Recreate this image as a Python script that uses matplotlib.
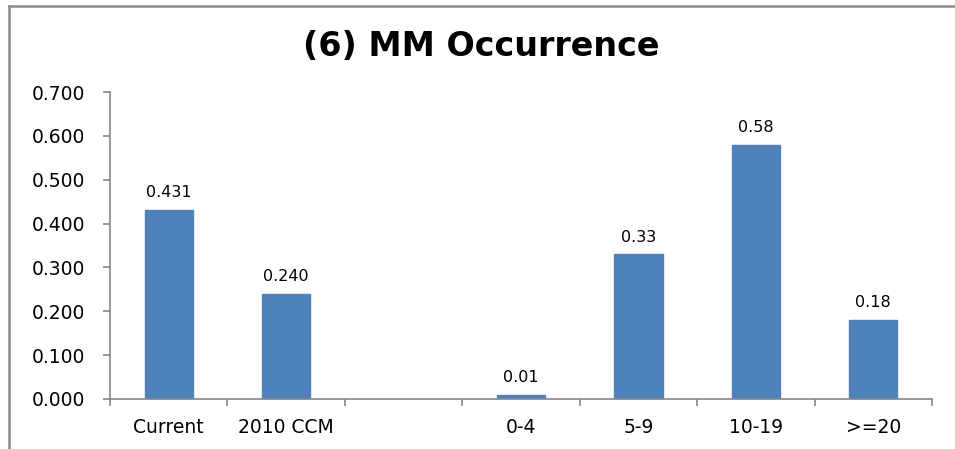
import numpy as np
import matplotlib.pyplot as plt
from matplotlib.lines import Line2D

plt.rcParams['font.family'] = ['DejaVu Sans']

categories = ['Current', '2010 CCM', '', '0-4', '5-9', '10-19', '>=20']
values = [0.431, 0.240, None, 0.01, 0.33, 0.58, 0.18]
value_labels = ['0.431', '0.240', '', '0.01', '0.33', '0.58', '0.18']

W, H = 955, 449
fig = plt.figure(figsize=(W / 100, H / 100), dpi=100)
ax = fig.add_axes([110 / W, 1 - 399 / H, (932 - 110) / W, (399 - 92) / H])

x = np.arange(len(categories))
heights = [v if v is not None else 0 for v in values]
bars = ax.bar(x, heights, width=0.41, color='#4F81BD', edgecolor='#4F81BD', zorder=2)
for i, b in enumerate(bars):
    if values[i] is None:
        b.set_visible(False)
        continue
    ax.annotate(value_labels[i], (b.get_x() + b.get_width() / 2, values[i]),
                xytext=(0, 7), textcoords='offset points', ha='center', va='bottom',
                fontsize=11.5)

ax.set_xlim(-0.5, len(categories) - 0.5)
ax.set_ylim(0, 0.7)
ax.set_yticks(np.arange(0, 0.71, 0.1))
ax.set_yticklabels([f'{t:.3f}' for t in np.arange(0, 0.71, 0.1)], fontsize=13.5)

# category labels in the middle, tick marks on the boundaries
ax.set_xticks(x)
ax.set_xticklabels(categories, fontsize=13.5)
ax.tick_params(axis='x', which='major', length=0, pad=14)
ax.set_xticks(np.arange(-0.5, len(categories)), minor=True)
ax.tick_params(axis='x', which='minor', length=5, color='#868686', width=1.2)
ax.tick_params(axis='y', length=5, color='#868686', width=1.2, pad=13)

for s in ['top', 'right']:
    ax.spines[s].set_visible(False)
for s in ['left', 'bottom']:
    ax.spines[s].set_color('#868686')
    ax.spines[s].set_linewidth(1.2)

fig.text(481 / W, 1 - 46 / H, '(6) MM Occurrence', ha='center', va='center',
         fontsize=24, fontweight='bold')

# outer chart border (top and left edges)
fig.add_artist(Line2D([9 / W, 1], [1 - 6 / H, 1 - 6 / H], color='#8c8c8c', lw=1.8))
fig.add_artist(Line2D([9 / W, 9 / W], [0, 1 - 6 / H], color='#8c8c8c', lw=1.8))

fig.savefig('out.png', dpi=100, facecolor='white')
